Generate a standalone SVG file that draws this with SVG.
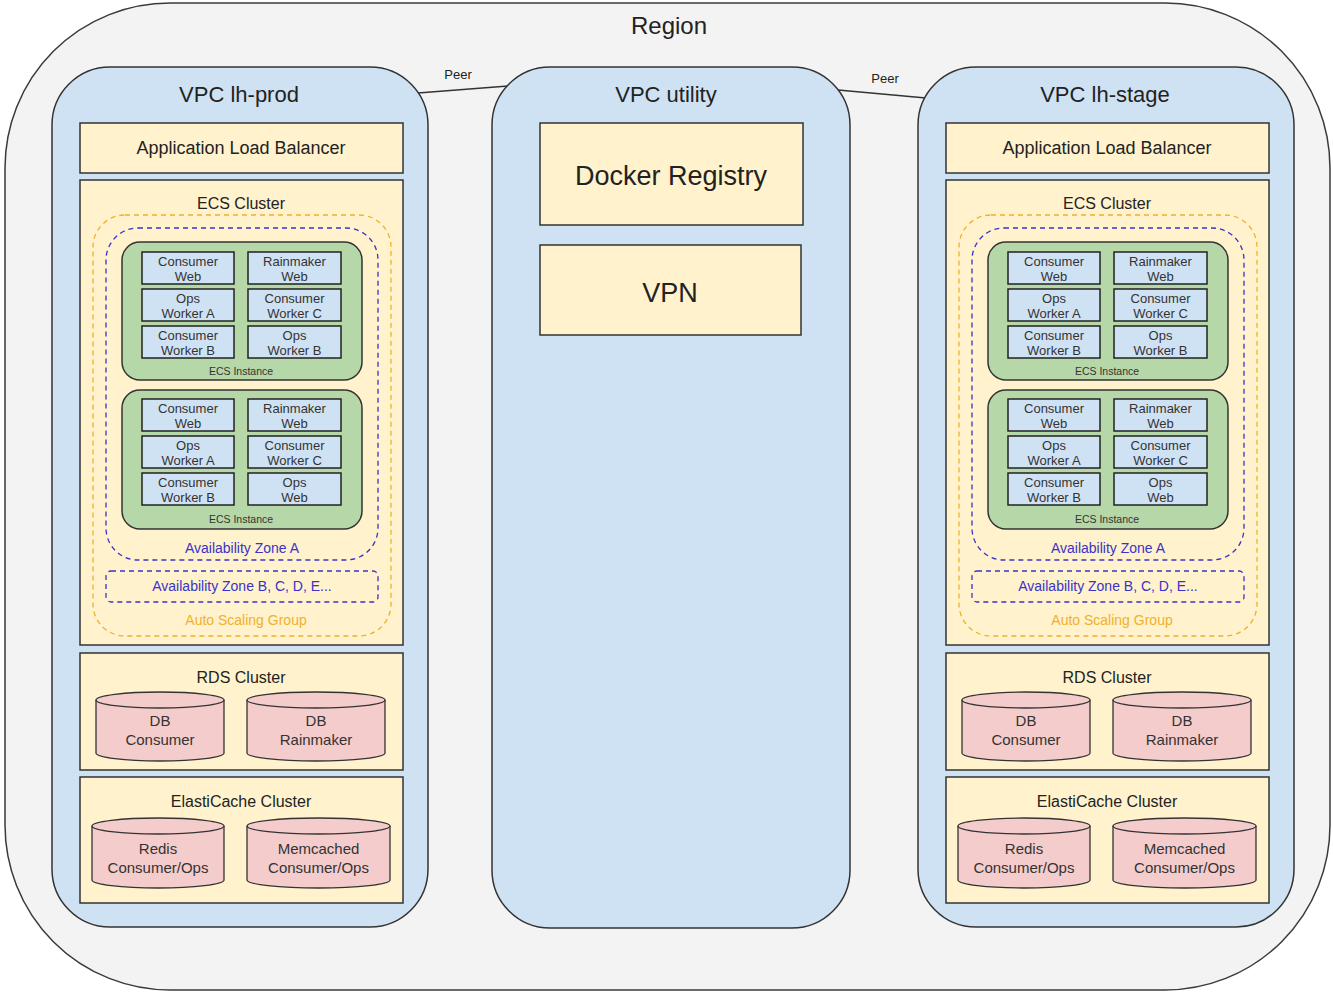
<svg xmlns="http://www.w3.org/2000/svg" width="1333" height="993" viewBox="0 0 1333 993">
<style>
text{font-family:"Liberation Sans",Arial,sans-serif;text-anchor:middle;fill:#222}
.region{fill:#f3f3f3;stroke:#3a3a3a;stroke-width:1.5}
.vpc{fill:#cfe2f3;stroke:#333;stroke-width:1.5}
.yel{fill:#fff2cc;stroke:#333;stroke-width:1.5}
.asg{fill:none;stroke:#f1b02b;stroke-width:1.3;stroke-dasharray:5 4}
.az{fill:none;stroke:#3b32c8;stroke-width:1.3;stroke-dasharray:5 4}
.inst{fill:#b6d7a8;stroke:#333;stroke-width:1.5}
.task{fill:#cfe2f3;stroke:#222;stroke-width:1.5}
.cyl{fill:#f4cccc;stroke:#333;stroke-width:1.3}
.cylt{fill:none;stroke:#333;stroke-width:1.3}
.tt{font-size:13px;fill:#333}
.lbl{font-size:10.5px;fill:#333}
.azl{font-size:14px;fill:#3b32c8}
.asgl{font-size:14px;fill:#f1b02b}
.h16{font-size:16px}
.h15{font-size:15px;fill:#333}
.h18{font-size:18px}
.h22{font-size:22px}
.peer{stroke:#333;stroke-width:1.5;fill:none}
</style>
<g id="region">
<rect class="region" x="5" y="3" width="1325" height="987" rx="165" ry="165"/>
<text x="669" y="34" style="font-size:24px">Region</text>
</g>
<g id="connectors">
<line class="peer" x1="418" y1="93" x2="508" y2="86"/>
<line class="peer" x1="838" y1="90" x2="926" y2="98"/>
<text x="458" y="79" style="font-size:13px">Peer</text>
<text x="885" y="83" style="font-size:13px">Peer</text>
</g>
<g id="vpc-utility">
<rect class="vpc" x="492" y="67" width="358" height="861" rx="58" ry="58"/>
<text class="h22" x="666" y="102">VPC utility</text>
</g>
<g id="docker-registry">
<rect class="yel" x="540" y="123" width="263" height="102"/>
<text x="671" y="185" style="font-size:27px">Docker Registry</text>
</g>
<g id="vpn">
<rect class="yel" x="540" y="245" width="261" height="90"/>
<text x="670" y="302" style="font-size:27px">VPN</text>
</g>

<!-- ===== VPC lh-prod ===== -->
<g id="vpc-lh-prod">
<rect class="vpc" x="52" y="67" width="376" height="860" rx="58" ry="58"/>
<text class="h22" x="239" y="102">VPC lh-prod</text>
</g>
<g id="prod-alb">
<rect class="yel" x="80" y="123" width="323" height="50"/>
<text class="h18" x="241" y="154">Application Load Balancer</text>
</g>
<g id="prod-ecs-cluster">
<rect class="yel" x="80" y="180" width="323" height="465"/>
<text class="h16" x="241" y="209">ECS Cluster</text>
</g>
<g id="prod-asg">
<rect class="asg" x="93" y="215" width="298" height="421" rx="32" ry="32"/>
<text class="asgl" x="246" y="625">Auto Scaling Group</text>
</g>
<g id="prod-az-a">
<rect class="az" x="106" y="228" width="272" height="332" rx="32" ry="32"/>
<text class="azl" x="242" y="553">Availability Zone A</text>
</g>
<g id="prod-az-b">
<rect class="az" x="106" y="571" width="272" height="31" rx="5" ry="5"/>
<text class="azl" x="242" y="591">Availability Zone B, C, D, E...</text>
</g>
<g id="prod-instance-1">
<rect class="inst" x="122" y="242" width="240" height="138" rx="18" ry="18"/>
<text class="lbl" x="241" y="375">ECS Instance</text>
</g>
<g id="prod-i1-consumer-web"><rect class="task" x="142" y="252" width="92" height="32"/><text class="tt" x="188" y="265.5">Consumer</text><text class="tt" x="188" y="280.5">Web</text></g>
<g id="prod-i1-rainmaker-web"><rect class="task" x="248" y="252" width="93" height="32"/><text class="tt" x="294.5" y="265.5">Rainmaker</text><text class="tt" x="294.5" y="280.5">Web</text></g>
<g id="prod-i1-ops-worker-a"><rect class="task" x="142" y="289" width="92" height="32"/><text class="tt" x="188" y="302.5">Ops</text><text class="tt" x="188" y="317.5">Worker A</text></g>
<g id="prod-i1-consumer-worker-c"><rect class="task" x="248" y="289" width="93" height="32"/><text class="tt" x="294.5" y="302.5">Consumer</text><text class="tt" x="294.5" y="317.5">Worker C</text></g>
<g id="prod-i1-consumer-worker-b"><rect class="task" x="142" y="326" width="92" height="32"/><text class="tt" x="188" y="339.5">Consumer</text><text class="tt" x="188" y="354.5">Worker B</text></g>
<g id="prod-i1-ops-worker-b"><rect class="task" x="248" y="326" width="93" height="32"/><text class="tt" x="294.5" y="339.5">Ops</text><text class="tt" x="294.5" y="354.5">Worker B</text></g>
<g id="prod-instance-2">
<rect class="inst" x="122" y="390" width="240" height="139" rx="18" ry="18"/>
<text class="lbl" x="241" y="523">ECS Instance</text>
</g>
<g id="prod-i2-consumer-web"><rect class="task" x="142" y="399" width="92" height="32"/><text class="tt" x="188" y="412.5">Consumer</text><text class="tt" x="188" y="427.5">Web</text></g>
<g id="prod-i2-rainmaker-web"><rect class="task" x="248" y="399" width="93" height="32"/><text class="tt" x="294.5" y="412.5">Rainmaker</text><text class="tt" x="294.5" y="427.5">Web</text></g>
<g id="prod-i2-ops-worker-a"><rect class="task" x="142" y="436" width="92" height="32"/><text class="tt" x="188" y="449.5">Ops</text><text class="tt" x="188" y="464.5">Worker A</text></g>
<g id="prod-i2-consumer-worker-c"><rect class="task" x="248" y="436" width="93" height="32"/><text class="tt" x="294.5" y="449.5">Consumer</text><text class="tt" x="294.5" y="464.5">Worker C</text></g>
<g id="prod-i2-consumer-worker-b"><rect class="task" x="142" y="473" width="92" height="32"/><text class="tt" x="188" y="486.5">Consumer</text><text class="tt" x="188" y="501.5">Worker B</text></g>
<g id="prod-i2-ops-web"><rect class="task" x="248" y="473" width="93" height="32"/><text class="tt" x="294.5" y="486.5">Ops</text><text class="tt" x="294.5" y="501.5">Web</text></g>
<g id="prod-rds-cluster">
<rect class="yel" x="80" y="653" width="323" height="117"/>
<text class="h16" x="241" y="683">RDS Cluster</text>
</g>
<g id="prod-db-consumer">
<path class="cyl" d="M96,700 A64,8 0 0 1 224,700 L224,753 A64,8 0 0 1 96,753 Z"/>
<path class="cylt" d="M96,700 A64,8 0 0 0 224,700"/>
<text class="h15" x="160" y="726">DB</text><text class="h15" x="160" y="745">Consumer</text>
</g>
<g id="prod-db-rainmaker">
<path class="cyl" d="M247,700 A69,8 0 0 1 385,700 L385,753 A69,8 0 0 1 247,753 Z"/>
<path class="cylt" d="M247,700 A69,8 0 0 0 385,700"/>
<text class="h15" x="316" y="726">DB</text><text class="h15" x="316" y="745">Rainmaker</text>
</g>
<g id="prod-elasticache-cluster">
<rect class="yel" x="80" y="777" width="323" height="126"/>
<text class="h16" x="241" y="807">ElastiCache Cluster</text>
</g>
<g id="prod-redis">
<path class="cyl" d="M92,826 A66,8 0 0 1 224,826 L224,880 A66,8 0 0 1 92,880 Z"/>
<path class="cylt" d="M92,826 A66,8 0 0 0 224,826"/>
<text class="h15" x="158" y="854">Redis</text><text class="h15" x="158" y="873">Consumer/Ops</text>
</g>
<g id="prod-memcached">
<path class="cyl" d="M247,826 A71.5,8 0 0 1 390,826 L390,880 A71.5,8 0 0 1 247,880 Z"/>
<path class="cylt" d="M247,826 A71.5,8 0 0 0 390,826"/>
<text class="h15" x="318.5" y="854">Memcached</text><text class="h15" x="318.5" y="873">Consumer/Ops</text>
</g>

<!-- ===== VPC lh-stage ===== -->
<g id="vpc-lh-stage">
<rect class="vpc" x="918" y="67" width="376" height="860" rx="58" ry="58"/>
<text class="h22" x="1105" y="102">VPC lh-stage</text>
</g>
<g id="stage-alb">
<rect class="yel" x="946" y="123" width="323" height="50"/>
<text class="h18" x="1107" y="154">Application Load Balancer</text>
</g>
<g id="stage-ecs-cluster">
<rect class="yel" x="946" y="180" width="323" height="465"/>
<text class="h16" x="1107" y="209">ECS Cluster</text>
</g>
<g id="stage-asg">
<rect class="asg" x="959" y="215" width="298" height="421" rx="32" ry="32"/>
<text class="asgl" x="1112" y="625">Auto Scaling Group</text>
</g>
<g id="stage-az-a">
<rect class="az" x="972" y="228" width="272" height="332" rx="32" ry="32"/>
<text class="azl" x="1108" y="553">Availability Zone A</text>
</g>
<g id="stage-az-b">
<rect class="az" x="972" y="571" width="272" height="31" rx="5" ry="5"/>
<text class="azl" x="1108" y="591">Availability Zone B, C, D, E...</text>
</g>
<g id="stage-instance-1">
<rect class="inst" x="988" y="242" width="240" height="138" rx="18" ry="18"/>
<text class="lbl" x="1107" y="375">ECS Instance</text>
</g>
<g id="stage-i1-consumer-web"><rect class="task" x="1008" y="252" width="92" height="32"/><text class="tt" x="1054" y="265.5">Consumer</text><text class="tt" x="1054" y="280.5">Web</text></g>
<g id="stage-i1-rainmaker-web"><rect class="task" x="1114" y="252" width="93" height="32"/><text class="tt" x="1160.5" y="265.5">Rainmaker</text><text class="tt" x="1160.5" y="280.5">Web</text></g>
<g id="stage-i1-ops-worker-a"><rect class="task" x="1008" y="289" width="92" height="32"/><text class="tt" x="1054" y="302.5">Ops</text><text class="tt" x="1054" y="317.5">Worker A</text></g>
<g id="stage-i1-consumer-worker-c"><rect class="task" x="1114" y="289" width="93" height="32"/><text class="tt" x="1160.5" y="302.5">Consumer</text><text class="tt" x="1160.5" y="317.5">Worker C</text></g>
<g id="stage-i1-consumer-worker-b"><rect class="task" x="1008" y="326" width="92" height="32"/><text class="tt" x="1054" y="339.5">Consumer</text><text class="tt" x="1054" y="354.5">Worker B</text></g>
<g id="stage-i1-ops-worker-b"><rect class="task" x="1114" y="326" width="93" height="32"/><text class="tt" x="1160.5" y="339.5">Ops</text><text class="tt" x="1160.5" y="354.5">Worker B</text></g>
<g id="stage-instance-2">
<rect class="inst" x="988" y="390" width="240" height="139" rx="18" ry="18"/>
<text class="lbl" x="1107" y="523">ECS Instance</text>
</g>
<g id="stage-i2-consumer-web"><rect class="task" x="1008" y="399" width="92" height="32"/><text class="tt" x="1054" y="412.5">Consumer</text><text class="tt" x="1054" y="427.5">Web</text></g>
<g id="stage-i2-rainmaker-web"><rect class="task" x="1114" y="399" width="93" height="32"/><text class="tt" x="1160.5" y="412.5">Rainmaker</text><text class="tt" x="1160.5" y="427.5">Web</text></g>
<g id="stage-i2-ops-worker-a"><rect class="task" x="1008" y="436" width="92" height="32"/><text class="tt" x="1054" y="449.5">Ops</text><text class="tt" x="1054" y="464.5">Worker A</text></g>
<g id="stage-i2-consumer-worker-c"><rect class="task" x="1114" y="436" width="93" height="32"/><text class="tt" x="1160.5" y="449.5">Consumer</text><text class="tt" x="1160.5" y="464.5">Worker C</text></g>
<g id="stage-i2-consumer-worker-b"><rect class="task" x="1008" y="473" width="92" height="32"/><text class="tt" x="1054" y="486.5">Consumer</text><text class="tt" x="1054" y="501.5">Worker B</text></g>
<g id="stage-i2-ops-web"><rect class="task" x="1114" y="473" width="93" height="32"/><text class="tt" x="1160.5" y="486.5">Ops</text><text class="tt" x="1160.5" y="501.5">Web</text></g>
<g id="stage-rds-cluster">
<rect class="yel" x="946" y="653" width="323" height="117"/>
<text class="h16" x="1107" y="683">RDS Cluster</text>
</g>
<g id="stage-db-consumer">
<path class="cyl" d="M962,700 A64,8 0 0 1 1090,700 L1090,753 A64,8 0 0 1 962,753 Z"/>
<path class="cylt" d="M962,700 A64,8 0 0 0 1090,700"/>
<text class="h15" x="1026" y="726">DB</text><text class="h15" x="1026" y="745">Consumer</text>
</g>
<g id="stage-db-rainmaker">
<path class="cyl" d="M1113,700 A69,8 0 0 1 1251,700 L1251,753 A69,8 0 0 1 1113,753 Z"/>
<path class="cylt" d="M1113,700 A69,8 0 0 0 1251,700"/>
<text class="h15" x="1182" y="726">DB</text><text class="h15" x="1182" y="745">Rainmaker</text>
</g>
<g id="stage-elasticache-cluster">
<rect class="yel" x="946" y="777" width="323" height="126"/>
<text class="h16" x="1107" y="807">ElastiCache Cluster</text>
</g>
<g id="stage-redis">
<path class="cyl" d="M958,826 A66,8 0 0 1 1090,826 L1090,880 A66,8 0 0 1 958,880 Z"/>
<path class="cylt" d="M958,826 A66,8 0 0 0 1090,826"/>
<text class="h15" x="1024" y="854">Redis</text><text class="h15" x="1024" y="873">Consumer/Ops</text>
</g>
<g id="stage-memcached">
<path class="cyl" d="M1113,826 A71.5,8 0 0 1 1256,826 L1256,880 A71.5,8 0 0 1 1113,880 Z"/>
<path class="cylt" d="M1113,826 A71.5,8 0 0 0 1256,826"/>
<text class="h15" x="1184.5" y="854">Memcached</text><text class="h15" x="1184.5" y="873">Consumer/Ops</text>
</g>
</svg>
